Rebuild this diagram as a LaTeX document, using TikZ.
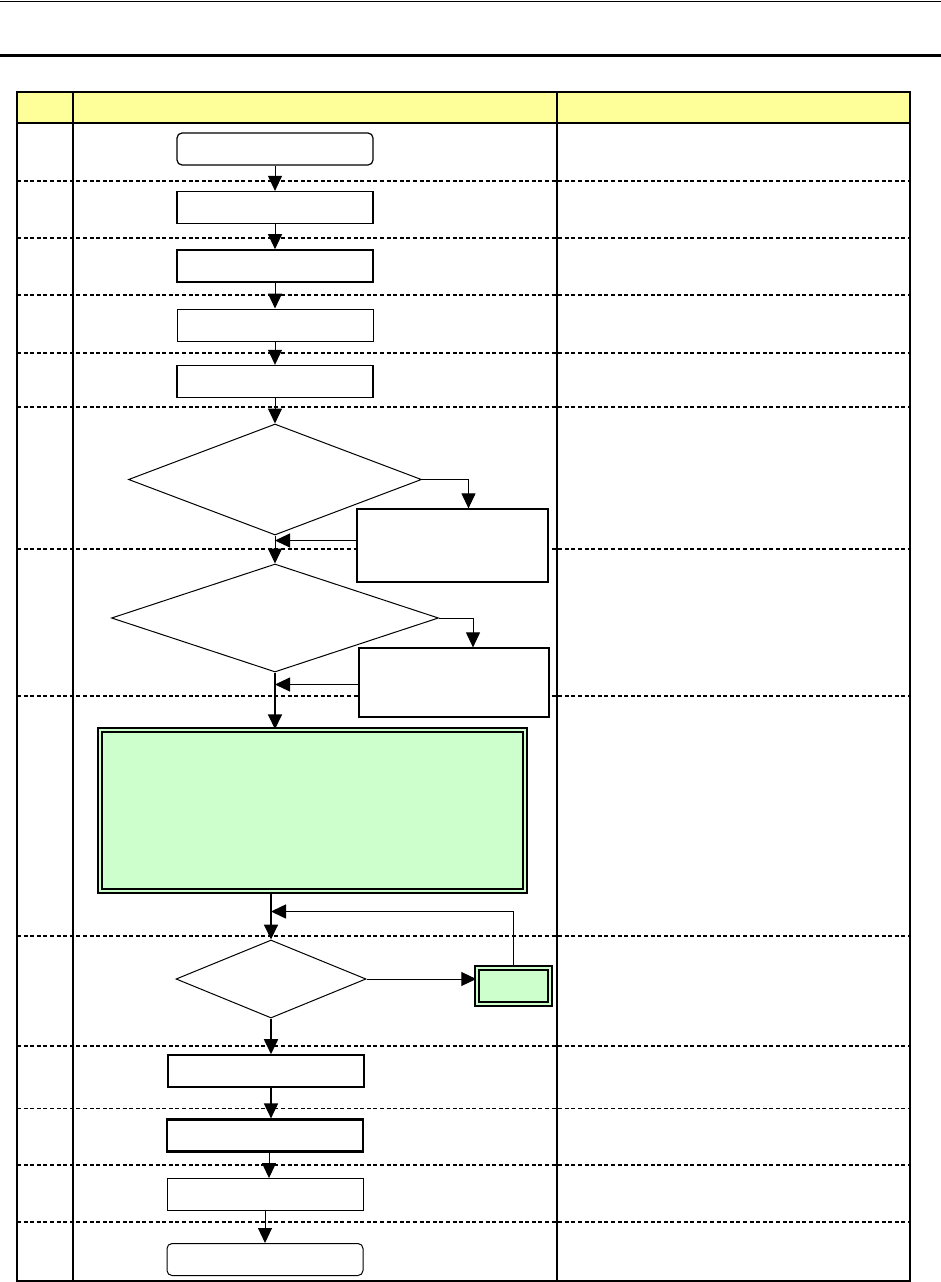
\documentclass[tikz,border=0pt]{standalone}
\usepackage{tikz}
\usetikzlibrary{arrows.meta,calc,shapes.geometric}
\definecolor{hdryellow}{RGB}{255,255,153}
\definecolor{mint}{RGB}{204,255,204}
\tikzset{
  proc/.style  ={draw=black, fill=white, line width=1.2pt, inner sep=0pt,
                 minimum width=196pt, minimum height=32pt},
  term/.style  ={proc, rounded corners=5pt},
  dec/.style   ={draw=black, fill=white, diamond, line width=1pt, inner sep=0pt},
  sub/.style   ={draw=black, fill=mint, double=mint, double distance=2.6pt,
                 line width=1.5pt, inner sep=0pt},
  ar/.style    ={-{Triangle[length=15pt,width=14pt]}, line width=1pt},
  arb/.style   ={ar, line width=1.8pt},
  rowsep/.style={dash pattern=on 4pt off 2.6pt, line width=1.4pt},
  rule/.style  ={line width=1.2pt},
}
\begin{document}
\begin{tikzpicture}[x=1pt,y=-1pt]
\useasboundingbox (0,0) rectangle (941,1282);
% page rules
\draw[line width=0.8pt] (0,1) -- (941,1);
\draw[line width=2.4pt] (0,55.5) -- (941,55.5);

% table
\fill[hdryellow] (17,92) rectangle (910,123);
\foreach \yy in {181,238,295,353,407,549,696,936,1046,1165,1222}
  \draw[rowsep] (17,\yy) -- (910,\yy);
\draw[rowsep,line width=0.9pt] (17,1108) -- (910,1108);
\draw[rule] (17,92) rectangle (910,1281);
\draw[rule] (17,123) -- (910,123);
\draw[rule] (73,92) -- (73,1281);
\draw[rule] (557,92) -- (557,1281);

% upper chain
\node[term] (start) at (275,149) {};
\node[proc] (st1) at (275,207.5) {};
\node[proc,line width=1.6pt] (st2) at (275,266) {};
\node[proc,line width=1pt] (st3) at (275,325) {};
\node[proc,line width=1.4pt] (st4) at (275,381.5) {};
\draw[ar] (start) -- (st1);
\draw[ar] (st1) -- (st2);
\draw[ar] (st2) -- (st3);
\draw[ar] (st3) -- (st4);

% checks
\node[dec,minimum width=293pt,minimum height=111pt] (dec1) at (275,479.5) {};
\node[proc,minimum width=191pt,minimum height=73pt] (fixA) at (452.5,545.5) {};
\node[dec,minimum width=327pt,minimum height=108pt] (dec2) at (275,618) {};
\node[proc,minimum width=190pt,minimum height=69pt] (fixB) at (454,682.5) {};
\draw[ar] (st4) -- (dec1);
\draw[ar] (dec1.south) -- (dec2.north);
\draw[ar] (dec1.east) -| ([xshift=16pt]fixA.north);
\draw[ar] ([yshift=5pt]fixA.west) -- ([yshift=5pt]fixA.west -| dec1.south);
\draw[ar] (dec2.east) -| ([xshift=19pt]fixB.north);
\draw[ar] ([yshift=-2pt]fixB.west) -- ([yshift=-2pt]fixB.west -| dec2.south);

% main block and retry loop
\node[sub,minimum width=425pt,minimum height=161pt] (main) at (312.5,810.5) {};
\node[dec,minimum width=190pt,minimum height=78pt] (dec3) at (271,979) {};
\node[sub,minimum width=73pt,minimum height=36pt] (retry) at (513.5,986) {};
\draw[arb] (dec2.south) -- (dec2.south |- main.north);
\draw[arb] (main.south -| dec3.north) -- (dec3.north);
\draw[ar] (dec3.east) -- (dec3.east -| retry.west);
\draw[ar,line width=1.5pt] (retry.north) |- ([yshift=28pt]dec3.north);

% lower chain
\node[proc,line width=1.6pt] (st5) at (266,1071) {};
\node[proc,line width=2.2pt] (st6) at (265,1135.5) {};
\node[proc,line width=0.9pt] (st7) at (265,1194.5) {};
\node[term,line width=1pt] (stop) at (265,1259.5) {};
\draw[arb] (dec3.south) -- (dec3.south |- st5.north);
\draw[arb] (st5.south -| dec3.south) -- (dec3.south |- st6.north);
\draw[ar] ([xshift=4pt]st6.south) -- ([xshift=4pt]st6.south |- st7.north);
\draw[ar] (st7) -- (stop);
\end{tikzpicture}
\end{document}
